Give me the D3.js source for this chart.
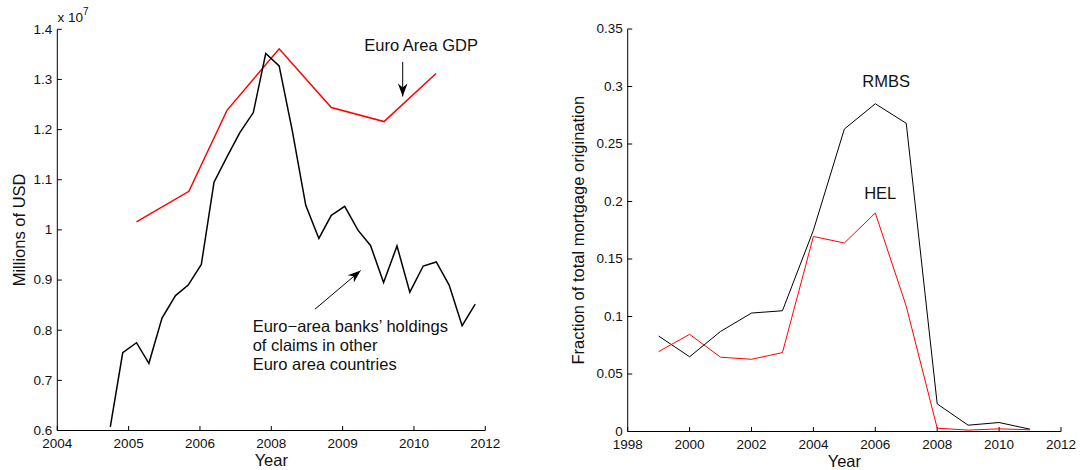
<!DOCTYPE html>
<html>
<head>
<meta charset="utf-8">
<script src="https://cdn.jsdelivr.net/npm/d3@7"></script>
<style>
  body { margin: 0; background: #fff; }
  svg { display: block; font-family: "Liberation Sans", Arial, sans-serif; }
</style>
</head>
<body>
<div id="chart"></div>
<script>
// left panel: x is in tick units (0..6), labels below are what the axis shows
let leftTickLabels = ['2004', '2005', '2006', '2008', '2009', '2010', '2012']
let leftYTicks = [0.6, 0.7, 0.8, 0.9, 1, 1.1, 1.2, 1.3, 1.4]

// Euro-area banks' holdings of claims in other euro area countries (x 10^7)
let holdX = [0.743, 0.917, 1.110, 1.284, 1.468, 1.657, 1.835, 2.019, 2.197, 2.377,
    2.559, 2.748, 2.922, 3.110, 3.294, 3.483, 3.667, 3.841, 4.029, 4.217,
    4.391, 4.574, 4.762, 4.942, 5.130, 5.313, 5.493, 5.675, 5.859]
let holdVal = [0.607, 0.755, 0.775, 0.734, 0.824, 0.869, 0.890, 0.931, 1.095, 1.145,
    1.194, 1.234, 1.352, 1.327, 1.198, 1.049, 0.983, 1.029, 1.047, 0.999,
    0.969, 0.895, 0.968, 0.876, 0.928, 0.936, 0.890, 0.809, 0.852]

// Euro area GDP (x 10^7)
let gdpX = [1.110, 1.845, 2.381, 3.110, 3.841, 4.580, 5.309]
let gdpVal = [1.016, 1.077, 1.239, 1.361, 1.244, 1.216, 1.312]

// right panel
let years = [1999, 2000, 2001, 2002, 2003, 2004, 2005, 2006, 2007, 2008, 2009, 2010, 2011]
let rmbs = [0.083, 0.065, 0.087, 0.103, 0.105, 0.175, 0.263, 0.285, 0.268, 0.024, 0.0055, 0.0078, 0.002]
let hel = [0.0695, 0.0845, 0.0646, 0.0628, 0.0686, 0.1696, 0.1639, 0.190, 0.1089, 0.0029, 0.0012, 0.0023, 0.0015]
let rightXTicks = [1998, 2000, 2002, 2004, 2006, 2008, 2010, 2012]
let rightYTicks = [0, 0.05, 0.1, 0.15, 0.2, 0.25, 0.3, 0.35]

const W = 1080, H = 470
const tickFont = 13.5, labelFont = 16.5, tickLen = 4.5

let svg = d3.select('#chart').append('svg')
    .attr('width', W)
    .attr('height', H)

let defs = svg.append('defs')
defs.append('marker')
    .attr('id', 'head')
    .attr('viewBox', '-14 -6 16 12')
    .attr('refX', 0)
    .attr('refY', 0)
    .attr('markerUnits', 'userSpaceOnUse')
    .attr('markerWidth', 16)
    .attr('markerHeight', 12)
    .attr('orient', 'auto')
    .append('path')
    .attr('d', 'M0,0 L-13,-4.8 L-9,0 L-13,4.8 Z')
    .attr('fill', '#000')

let fmt = d => d3.format('~g')(d)

// draws inward MATLAB-style axes: left + bottom only
let drawAxes = (g, x, y, xTicks, xLabel, yTicks, yLabel) => {
    let [x0, x1] = x.range(), [y0, y1] = y.range()
    g.append('line').attr('x1', x0).attr('x2', x1).attr('y1', y0).attr('y2', y0)
        .attr('stroke', '#000').attr('stroke-width', 1)
    g.append('line').attr('x1', x0).attr('x2', x0).attr('y1', y0).attr('y2', y1)
        .attr('stroke', '#000').attr('stroke-width', 1)

    g.selectAll('.xt').data(xTicks).enter().append('line')
        .attr('x1', d => x(d.v)).attr('x2', d => x(d.v))
        .attr('y1', y0).attr('y2', y0 - tickLen)
        .attr('stroke', '#000')
    g.selectAll('.xl').data(xTicks).enter().append('text')
        .text(d => d.t)
        .attr('x', d => x(d.v))
        .attr('y', y0 + 17.5)
        .attr('text-anchor', 'middle')
        .attr('font-size', tickFont)
        .attr('fill', '#111')

    g.selectAll('.yt').data(yTicks).enter().append('line')
        .attr('x1', x0).attr('x2', x0 + tickLen)
        .attr('y1', d => y(d)).attr('y2', d => y(d))
        .attr('stroke', '#000')
    g.selectAll('.yl').data(yTicks).enter().append('text')
        .text(d => fmt(d))
        .attr('x', x0 - 5)
        .attr('y', d => y(d))
        .attr('dy', '0.32em')
        .attr('text-anchor', 'end')
        .attr('font-size', tickFont)
        .attr('fill', '#111')

    g.append('text')
        .text(xLabel)
        .attr('x', (x0 + x1) / 2)
        .attr('y', y0 + 35)
        .attr('text-anchor', 'middle')
        .attr('font-size', labelFont)
        .attr('fill', '#111')
}

//#region left panel
let xL = d3.scaleLinear().domain([0, 6]).range([57.3, 485.3])
let yL = d3.scaleLinear().domain([0.6, 1.4]).range([430.5, 29.3])
let left = svg.append('g')

drawAxes(left, xL, yL,
    leftTickLabels.map((t, i) => ({ v: i, t: t })), 'Year',
    leftYTicks)

left.append('text')
    .text('Millions of USD')
    .attr('transform', `translate(25,${(yL.range()[0] + yL.range()[1]) / 2}) rotate(-90)`)
    .attr('text-anchor', 'middle')
    .attr('font-size', labelFont)
    .attr('fill', '#111')

let expo = left.append('text')
    .attr('x', 57.5)
    .attr('y', 21.5)
    .attr('font-size', tickFont)
    .attr('fill', '#111')
expo.append('tspan').text('x 10')
expo.append('tspan').text('7').attr('font-size', 10).attr('dy', -7)

let lineL = (xs, vs) => d3.line()
    .x((d, i) => xL(xs[i]))
    .y(d => yL(d))(vs)

left.append('path')
    .attr('d', lineL(gdpX, gdpVal))
    .attr('fill', 'none')
    .attr('stroke', '#ff0000')
    .attr('stroke-width', 1.5)
left.append('path')
    .attr('d', lineL(holdX, holdVal))
    .attr('fill', 'none')
    .attr('stroke', '#000')
    .attr('stroke-width', 1.5)

// annotations
left.append('text')
    .text('Euro Area GDP')
    .attr('x', xL(4.304))
    .attr('y', yL(1.357))
    .attr('font-size', labelFont)
    .attr('fill', '#111')
left.append('line')
    .attr('x1', xL(4.842)).attr('y1', yL(1.335))
    .attr('x2', xL(4.842)).attr('y2', yL(1.266))
    .attr('stroke', '#000')
    .attr('marker-end', 'url(#head)')

left.append('line')
    .attr('x1', xL(3.613)).attr('y1', yL(0.842))
    .attr('x2', xL(4.253)).attr('y2', yL(0.919))
    .attr('stroke', '#000')
    .attr('marker-end', 'url(#head)')

let noteLines = ['Euro\u2212area banks\u2019 holdings', 'of claims in other', 'Euro area countries']
let noteY = [0.797, 0.759, 0.721]
left.selectAll('.note').data(noteLines).enter().append('text')
    .text(d => d)
    .attr('x', xL(2.739))
    .attr('y', (d, i) => yL(noteY[i]))
    .attr('font-size', labelFont)
    .attr('fill', '#111')
//#endregion

//#region right panel
let xR = d3.scaleLinear().domain([1998, 2012]).range([627.7, 1061])
let yR = d3.scaleLinear().domain([0, 0.35]).range([431.5, 29])
let right = svg.append('g')

drawAxes(right, xR, yR,
    rightXTicks.map(v => ({ v: v, t: String(v) })), 'Year',
    rightYTicks)

right.append('text')
    .text('Fraction of total mortgage origination')
    .attr('transform', `translate(584,${(yR.range()[0] + yR.range()[1]) / 2}) rotate(-90)`)
    .attr('text-anchor', 'middle')
    .attr('font-size', labelFont)
    .attr('fill', '#111')

let lineR = d3.line()
    .x((d, i) => xR(years[i]))
    .y(d => yR(d))

right.append('path')
    .attr('d', lineR(rmbs))
    .attr('fill', 'none')
    .attr('stroke', '#000')
    .attr('stroke-width', 1)
right.append('path')
    .attr('d', lineR(hel))
    .attr('fill', 'none')
    .attr('stroke', '#ff0000')
    .attr('stroke-width', 1)

right.append('text')
    .text('RMBS')
    .attr('x', xR(2006.35))
    .attr('y', yR(0.2998))
    .attr('text-anchor', 'middle')
    .attr('font-size', labelFont)
    .attr('fill', '#111')
right.append('text')
    .text('HEL')
    .attr('x', xR(2006.16))
    .attr('y', yR(0.2019))
    .attr('text-anchor', 'middle')
    .attr('font-size', labelFont)
    .attr('fill', '#111')
//#endregion
</script>
</body>
</html>
